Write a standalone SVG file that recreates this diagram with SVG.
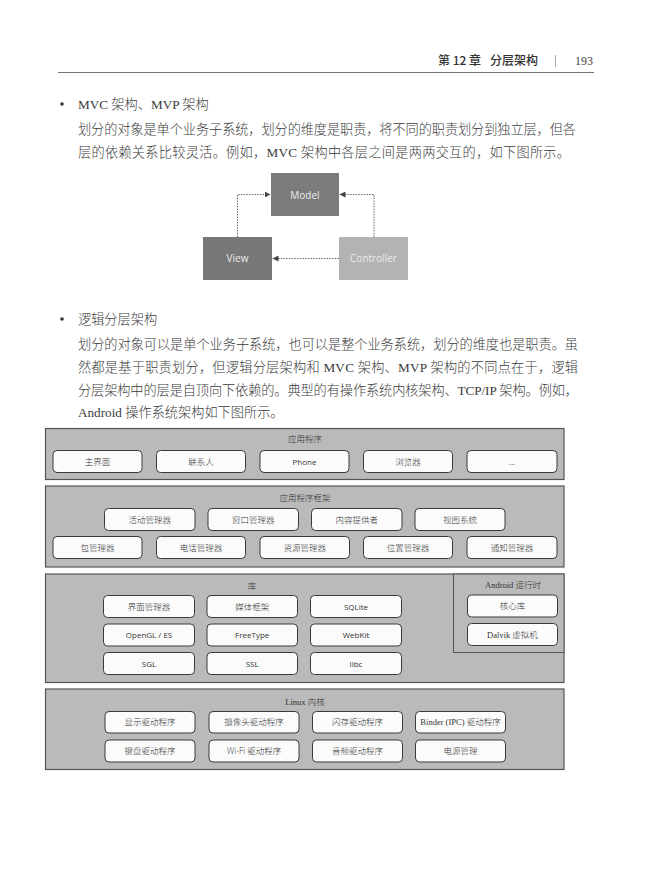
<svg xmlns="http://www.w3.org/2000/svg" width="649" height="891" viewBox="0 0 649 891">
<style>
.body{font-family:"Liberation Serif","Noto Sans CJK SC",serif;font-size:13.2px;fill:#3a3a3a;font-weight:300}
.hdr{font-family:"Noto Sans CJK SC",sans-serif;font-size:12px;fill:#333;font-weight:500}
.layer{fill:#bababa;stroke:#555;stroke-width:1.2}
.box{fill:#fbfbfb;stroke:#3a3a3a;stroke-width:1}
.lbl{font-family:"Liberation Serif","Noto Sans CJK SC",serif;font-size:8.5px;fill:#333;text-anchor:middle;font-weight:300}
.lbls{font-family:"Open Sans","Noto Sans CJK SC",sans-serif;font-size:8px;fill:#333;text-anchor:middle}
.mvc{font-family:"Open Sans",sans-serif;font-size:10px;fill:#ececec;text-anchor:middle}
.conn{fill:none;stroke:#555;stroke-width:0.9;stroke-dasharray:1.5 1.2}
</style>
<defs>
<marker id="arr" viewBox="0 0 10 10" refX="10" refY="5" markerWidth="6" markerHeight="6" orient="auto" markerUnits="userSpaceOnUse">
<path d="M0,0 L10,5 L0,10 z" fill="#444"/>
</marker>
</defs>
<rect width="649" height="891" fill="#fff"/>

<!-- header -->
<g id="header">
<text class="hdr" x="438" y="65">第 12 章</text>
<text class="hdr" x="490" y="65">分层架构</text>
<line x1="555.5" y1="55" x2="555.5" y2="67" stroke="#999" stroke-width="0.8"/>
<text x="575" y="65" style="font-family:'Liberation Serif',serif;font-size:12px;fill:#444">193</text>
<line x1="58" y1="72.5" x2="594" y2="72.5" stroke="#777" stroke-width="1"/>
</g>

<!-- text -->
<g id="text1">
<circle cx="62" cy="104" r="1.8" fill="#333"/>
<text class="body" x="78" y="109">MVC 架构、MVP 架构</text>
<text class="body" x="78" y="134" textLength="498" lengthAdjust="spacing">划分的对象是单个业务子系统，划分的维度是职责，将不同的职责划分到独立层，但各</text>
<text class="body" x="78" y="157" textLength="492" lengthAdjust="spacing">层的依赖关系比较灵活。例如，MVC 架构中各层之间是两两交互的，如下图所示。</text>
</g>

<!-- MVC diagram -->
<g id="connectors">
<path class="conn" d="M237.5,237 V194.5 H270.5" marker-end="url(#arr)"/>
<path class="conn" d="M374,237 V194.5 H339.5" marker-end="url(#arr)"/>
<path class="conn" d="M339,258.5 H272.5" marker-end="url(#arr)"/>
</g>
<g id="model">
<rect x="271" y="173" width="68" height="43" fill="#7b7b7b"/>
<text class="mvc" x="305" y="198.5">Model</text>
</g>
<g id="view">
<rect x="203" y="237" width="69" height="43" fill="#787878"/>
<text class="mvc" x="237.5" y="262">View</text>
</g>
<g id="controller">
<rect x="339" y="237" width="69" height="43" fill="#b3b3b3"/>
<text class="mvc" x="373.5" y="262">Controller</text>
</g>

<g id="text2">
<circle cx="62" cy="319" r="1.8" fill="#333"/>
<text class="body" x="78" y="324">逻辑分层架构</text>
<text class="body" x="78" y="349" textLength="500" lengthAdjust="spacing">划分的对象可以是单个业务子系统，也可以是整个业务系统，划分的维度也是职责。虽</text>
<text class="body" x="78" y="372" textLength="500" lengthAdjust="spacing">然都是基于职责划分，但逻辑分层架构和 MVC 架构、MVP 架构的不同点在于，逻辑</text>
<text class="body" x="78" y="395" textLength="500" lengthAdjust="spacing">分层架构中的层是自顶向下依赖的。典型的有操作系统内核架构、TCP/IP 架构。例如，</text>
<text class="body" x="78" y="417">Android 操作系统架构如下图所示。</text>
</g>

<!-- Layer 1 -->
<g id="layer-apps">
<rect class="layer" x="45.5" y="428.5" width="518.5" height="51"/>
<text class="lbl" x="305" y="442">应用程序</text>
</g>
<g id="app-home"><rect class="box" x="53" y="450.5" width="89" height="22" rx="4"/><text class="lbl" x="97.5" y="464.5">主界面</text></g>
<g id="app-contacts"><rect class="box" x="156.5" y="450.5" width="89" height="22" rx="4"/><text class="lbl" x="201" y="464.5">联系人</text></g>
<g id="app-phone"><rect class="box" x="260" y="450.5" width="89" height="22" rx="4"/><text class="lbls" x="304.5" y="464.5">Phone</text></g>
<g id="app-browser"><rect class="box" x="363.5" y="450.5" width="89" height="22" rx="4"/><text class="lbl" x="408" y="464.5">浏览器</text></g>
<g id="app-more"><rect class="box" x="467" y="450.5" width="90" height="22" rx="4"/><text class="lbl" x="512" y="464.5">...</text></g>

<!-- Layer 2 -->
<g id="layer-framework">
<rect class="layer" x="45.5" y="486" width="518.5" height="81"/>
<text class="lbl" x="305" y="501">应用程序框架</text>
</g>
<g id="fw-activity"><rect class="box" x="104.5" y="508.5" width="90.5" height="22" rx="4"/><text class="lbl" x="149.7" y="522.5">活动管理器</text></g>
<g id="fw-window"><rect class="box" x="208" y="508.5" width="90.5" height="22" rx="4"/><text class="lbl" x="253.2" y="522.5">窗口管理器</text></g>
<g id="fw-content"><rect class="box" x="311.5" y="508.5" width="90.5" height="22" rx="4"/><text class="lbl" x="356.7" y="522.5">内容提供者</text></g>
<g id="fw-view"><rect class="box" x="415" y="508.5" width="90" height="22" rx="4"/><text class="lbl" x="460" y="522.5">视图系统</text></g>
<g id="fw-package"><rect class="box" x="53" y="536.5" width="89" height="22" rx="4"/><text class="lbl" x="97.5" y="550.5">包管理器</text></g>
<g id="fw-telephony"><rect class="box" x="156.5" y="536.5" width="89" height="22" rx="4"/><text class="lbl" x="201" y="550.5">电话管理器</text></g>
<g id="fw-resource"><rect class="box" x="260" y="536.5" width="89.5" height="22" rx="4"/><text class="lbl" x="304.7" y="550.5">资源管理器</text></g>
<g id="fw-location"><rect class="box" x="363.5" y="536.5" width="89" height="22" rx="4"/><text class="lbl" x="408" y="550.5">位置管理器</text></g>
<g id="fw-notification"><rect class="box" x="467" y="536.5" width="90" height="22" rx="4"/><text class="lbl" x="512" y="550.5">通知管理器</text></g>

<!-- Layer 3 -->
<g id="layer-libs">
<rect class="layer" x="45.5" y="574" width="518.5" height="108.5"/>
<text class="lbl" x="252" y="589">库</text>
</g>
<g id="lib-surface"><rect class="box" x="103.5" y="595.5" width="91" height="22" rx="4"/><text class="lbl" x="149" y="609.5">界面管理器</text></g>
<g id="lib-media"><rect class="box" x="207" y="595.5" width="90.5" height="22" rx="4"/><text class="lbl" x="252.2" y="609.5">媒体框架</text></g>
<g id="lib-sqlite"><rect class="box" x="310.5" y="595.5" width="91" height="22" rx="4"/><text class="lbls" x="356" y="609.5">SQLite</text></g>
<g id="lib-opengl"><rect class="box" x="103.5" y="624" width="91" height="22" rx="4"/><text class="lbls" x="149" y="638">OpenGL / ES</text></g>
<g id="lib-freetype"><rect class="box" x="207" y="624" width="90.5" height="22" rx="4"/><text class="lbls" x="252.2" y="638">FreeType</text></g>
<g id="lib-webkit"><rect class="box" x="310.5" y="624" width="91" height="22" rx="4"/><text class="lbls" x="356" y="638">WebKit</text></g>
<g id="lib-sgl"><rect class="box" x="103.5" y="652.5" width="91" height="22" rx="4"/><text class="lbls" x="149" y="666.5">SGL</text></g>
<g id="lib-ssl"><rect class="box" x="207" y="652.5" width="90.5" height="22" rx="4"/><text class="lbls" x="252.2" y="666.5">SSL</text></g>
<g id="lib-libc"><rect class="box" x="310.5" y="652.5" width="91" height="22" rx="4"/><text class="lbls" x="356" y="666.5">libc</text></g>

<g id="layer-runtime">
<rect x="453.5" y="574" width="110.5" height="78.5" fill="#bababa" stroke="#555" stroke-width="1"/>
<text class="lbl" x="513" y="588">Android 运行时</text>
</g>
<g id="rt-core"><rect class="box" x="467.5" y="595" width="90" height="22" rx="4"/><text class="lbl" x="512.5" y="609">核心库</text></g>
<g id="rt-dalvik"><rect class="box" x="467.5" y="623.5" width="90" height="22" rx="4"/><text class="lbl" x="512.5" y="637.5">Dalvik 虚拟机</text></g>

<!-- Layer 4 -->
<g id="layer-kernel">
<rect class="layer" x="45.5" y="689" width="518.5" height="80.5"/>
<text class="lbl" x="305" y="704.5">Linux 内核</text>
</g>
<g id="k-display"><rect class="box" x="105" y="711.5" width="90" height="21.5" rx="4"/><text class="lbl" x="150" y="725.3">显示驱动程序</text></g>
<g id="k-camera"><rect class="box" x="209" y="711.5" width="90" height="21.5" rx="4"/><text class="lbl" x="254" y="725.3">摄像头驱动程序</text></g>
<g id="k-flash"><rect class="box" x="312.5" y="711.5" width="90" height="21.5" rx="4"/><text class="lbl" x="357.5" y="725.3">闪存驱动程序</text></g>
<g id="k-binder"><rect class="box" x="415.5" y="711.5" width="90" height="21.5" rx="4"/><text class="lbl" x="460.5" y="725.3">Binder (IPC) 驱动程序</text></g>
<g id="k-keypad"><rect class="box" x="105" y="740" width="90" height="22" rx="4"/><text class="lbl" x="150" y="754">键盘驱动程序</text></g>
<g id="k-wifi"><rect class="box" x="209" y="740" width="90" height="22" rx="4"/><text class="lbl" x="254" y="754"><tspan style="font-family:'Open Sans',sans-serif">Wi-Fi</tspan> 驱动程序</text></g>
<g id="k-audio"><rect class="box" x="312.5" y="740" width="90" height="22" rx="4"/><text class="lbl" x="357.5" y="754">音频驱动程序</text></g>
<g id="k-power"><rect class="box" x="415.5" y="740" width="90" height="22" rx="4"/><text class="lbl" x="460.5" y="754">电源管理</text></g>
</svg>
